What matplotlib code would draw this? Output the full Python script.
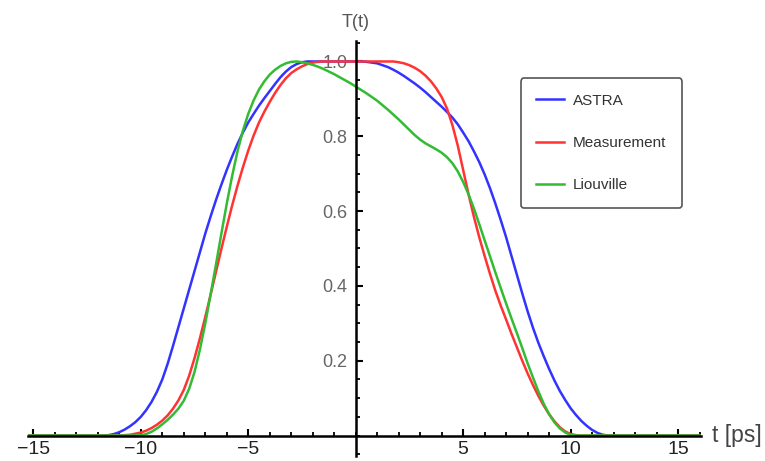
import numpy as np
import matplotlib
matplotlib.use("Agg")
import matplotlib.pyplot as plt
from matplotlib.ticker import MultipleLocator, FixedLocator, FixedFormatter

plt.rcParams['font.family'] = ['Liberation Sans', 'DejaVu Sans']

# time grid (ps): -12 ... 12 in 0.25 ps steps, plus the flat ends of the plot range
t_core = np.arange(-12, 12.001, 0.25)
t = np.concatenate(([-16.0], t_core, [16.0]))

astra_core = [
    0, 0, 0.001, 0.004, 0.009, 0.016, 0.025, 0.036,
    0.05, 0.068, 0.09, 0.117, 0.15, 0.192, 0.24, 0.29,
    0.34, 0.39, 0.44, 0.49, 0.54, 0.586, 0.63, 0.671,
    0.71, 0.746, 0.78, 0.81, 0.837, 0.86, 0.882, 0.902,
    0.921, 0.94, 0.958, 0.973, 0.985, 0.993, 0.998, 1.0,
    1.0, 1.0, 1.0, 1.0, 1.0, 1.0, 1.0, 1.0,
    1.0, 1.0, 0.999, 0.997, 0.995, 0.99, 0.985, 0.978,
    0.97, 0.961, 0.951, 0.941, 0.93, 0.918, 0.905, 0.892,
    0.879, 0.865, 0.85, 0.832, 0.81, 0.787, 0.76, 0.731,
    0.698, 0.661, 0.62, 0.576, 0.53, 0.48, 0.43, 0.38,
    0.332, 0.288, 0.248, 0.212, 0.178, 0.147, 0.119, 0.095,
    0.073, 0.055, 0.039, 0.026, 0.015, 0.007, 0.002, 0,
    0]

measurement_core = [
    0, 0, 0, 0, 0, 0.001, 0.002, 0.005,
    0.008, 0.013, 0.02, 0.029, 0.04, 0.054, 0.072, 0.094,
    0.122, 0.16, 0.207, 0.26, 0.317, 0.377, 0.438, 0.499,
    0.558, 0.615, 0.668, 0.717, 0.762, 0.802, 0.837, 0.866,
    0.892, 0.916, 0.937, 0.955, 0.969, 0.979, 0.987, 0.993,
    0.997, 0.999, 1.0, 1.0, 1.0, 1.0, 1.0, 1.0,
    1.0, 1.0, 1.0, 1.0, 1.0, 1.0, 1.0, 1.0,
    0.998, 0.995, 0.99, 0.983, 0.974, 0.962, 0.947, 0.928,
    0.905, 0.874, 0.83, 0.775, 0.71, 0.645, 0.585, 0.53,
    0.48, 0.432, 0.387, 0.347, 0.31, 0.272, 0.236, 0.2,
    0.166, 0.135, 0.106, 0.08, 0.057, 0.038, 0.022, 0.011,
    0.004, 0.001, 0, 0, 0, 0, 0, 0,
    0]

liouville_core = [
    0, 0, 0, 0, 0, 0, 0, 0,
    0.001, 0.004, 0.01, 0.019, 0.03, 0.042, 0.056, 0.072,
    0.093, 0.125, 0.17, 0.23, 0.3, 0.378, 0.458, 0.54,
    0.62, 0.694, 0.76, 0.815, 0.86, 0.896, 0.925, 0.947,
    0.965, 0.978, 0.988, 0.995, 0.999, 1.0, 0.998, 0.995,
    0.991, 0.986, 0.98, 0.973, 0.966, 0.958, 0.95, 0.942,
    0.933, 0.924, 0.915, 0.905, 0.895, 0.883, 0.871, 0.858,
    0.845, 0.831, 0.817, 0.803, 0.791, 0.781, 0.773, 0.765,
    0.756, 0.744, 0.728, 0.706, 0.678, 0.645, 0.607, 0.565,
    0.522, 0.479, 0.436, 0.394, 0.353, 0.313, 0.274, 0.234,
    0.193, 0.155, 0.118, 0.085, 0.057, 0.035, 0.019, 0.008,
    0.002, 0, 0, 0, 0, 0, 0, 0,
    0]

astra = [0] + astra_core + [0]
measurement = [0] + measurement_core + [0]
liouville = [0] + liouville_core + [0]

labels = ["ASTRA", "Measurement", "Liouville"]
colors = ["#3333ff", "#ff3333", "#33bb33"]

xticks_major = [-15, -10, -5, 5, 10, 15]
xtick_labels = ["\u221215", "\u221210", "\u22125", "5", "10", "15"]
yticks_major = [0.2, 0.4, 0.6, 0.8, 1.0]
ytick_labels = ["0.2", "0.4", "0.6", "0.8", "1.0"]

W, H = 765, 461
fig = plt.figure(figsize=(W / 100, H / 100), dpi=100)
ax = fig.add_axes([28 / W, (H - 456.1) / H, (700.6 - 28) / W, (456.1 - 40.9) / H])
ax.set_xlim(-15.25, 16.05)
ax.set_ylim(-0.055, 1.055)
ax.patch.set_alpha(0)

for ser, lab, c in zip([astra, measurement, liouville], labels, colors):
    ax.plot(t, ser, color=c, lw=1.8, label=lab, solid_joinstyle='round')

for s in ['top', 'right']:
    ax.spines[s].set_visible(False)
ax.spines['left'].set_position(('data', 0))
ax.spines['bottom'].set_position(('data', 0))
for s in ['left', 'bottom']:
    ax.spines[s].set_linewidth(1.8)
    ax.spines[s].set_color('black')
    ax.spines[s].set_zorder(5)

ax.xaxis.set_major_locator(FixedLocator(xticks_major))
ax.xaxis.set_major_formatter(FixedFormatter(xtick_labels))
ax.xaxis.set_minor_locator(MultipleLocator(1))
ax.yaxis.set_major_locator(FixedLocator(yticks_major))
ax.yaxis.set_major_formatter(FixedFormatter(ytick_labels))
ax.yaxis.set_minor_locator(MultipleLocator(0.05))

ax.tick_params(axis='x', which='major', direction='in', length=5, width=1.5,
               pad=4, labelsize=14, labelcolor='#222222', color='black')
ax.tick_params(axis='x', which='minor', direction='in', length=3, width=1.3,
               color='black')
ax.tick_params(axis='y', which='major', direction='in', length=5, width=1.5,
               pad=6, labelsize=13, labelcolor='#666666', color='black')
ax.tick_params(axis='y', which='minor', direction='in', length=3, width=1.3,
               color='black')

ax.text(16.58, 0, "t [ps]", fontsize=16.5, color='#444444', ha='left',
        va='center', clip_on=False)
ax.text(0, 1.105, "T(t)", fontsize=13, color='#555555', ha='center',
        va='center', clip_on=False)

leg = ax.legend(loc='upper left', bbox_to_anchor=(521 / W, (H - 78.5) / H),
                bbox_transform=fig.transFigure, borderaxespad=0,
                fontsize=11, frameon=True, fancybox=True, framealpha=1,
                edgecolor='#555555', handlelength=1.8, handletextpad=0.62,
                labelspacing=1.85, borderpad=1.0)
leg.get_frame().set_linewidth(1.2)
for txt in leg.get_texts():
    txt.set_color('#333333')

fig.savefig("out.png", dpi=100)
